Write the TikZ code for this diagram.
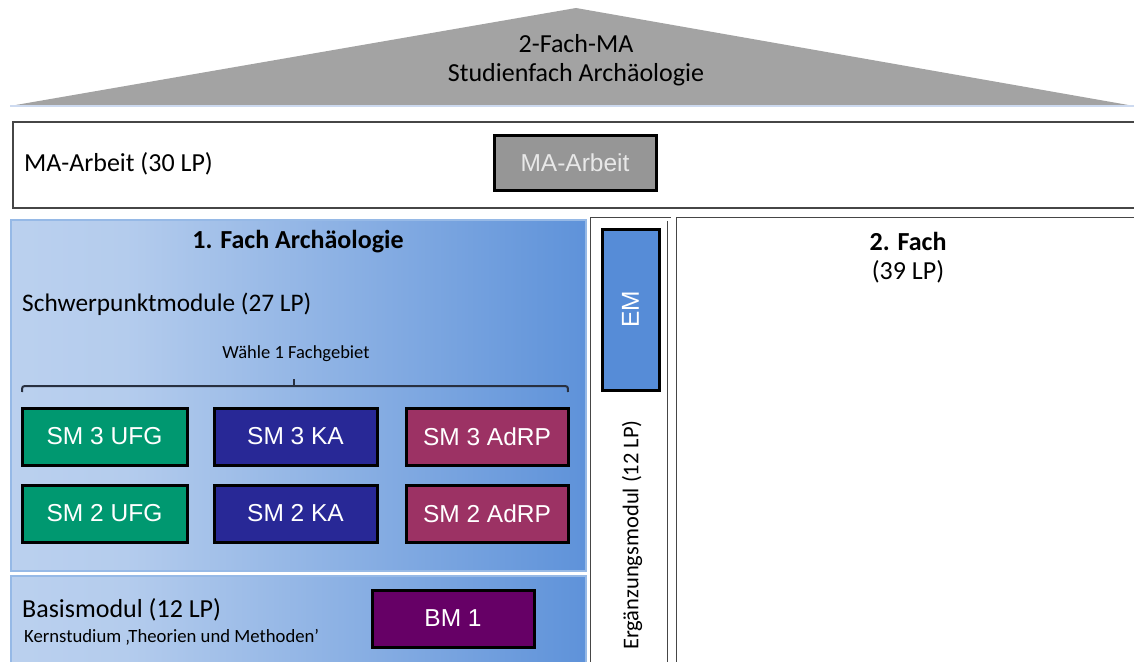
\documentclass[tikz,border=0pt]{standalone}
\usepackage{fontspec}
\setmainfont{Carlito}
\newfontfamily\arialf{Liberation Sans}
\usetikzlibrary{shadows}
\definecolor{trigray}{RGB}{163,163,163}
\definecolor{trilight}{RGB}{205,218,240}
\definecolor{magray}{RGB}{150,150,150}
\definecolor{matext}{RGB}{232,232,232}
\definecolor{smgreen}{RGB}{0,152,112}
\definecolor{smblue}{RGB}{40,40,150}
\definecolor{smmag}{RGB}{156,50,100}
\definecolor{bmpurple}{RGB}{102,0,102}
\definecolor{emblue}{RGB}{86,140,215}
\definecolor{lbA}{RGB}{204,220,242}
\definecolor{lbB}{RGB}{180,204,237}
\definecolor{dbA}{RGB}{88,142,216}
\definecolor{fachborder}{RGB}{150,185,230}
\definecolor{frameline}{RGB}{70,70,70}
\definecolor{bracecol}{RGB}{40,48,64}
\pgfdeclarehorizontalshading{fachshade}{100bp}{color(0bp)=(lbA); color(35bp)=(lbB); color(78bp)=(dbA); color(100bp)=(dbA)}
\tikzset{
  btn/.style={draw=black, line width=3pt, minimum height=57pt, minimum width=163pt,
    font=\arialf\fontsize{24.5}{28}\selectfont, text=white, inner sep=0pt,
    drop shadow={shadow xshift=2pt, shadow yshift=-2pt, opacity=0.35}},
  fachbox/.style={draw=fachborder, line width=1.5pt, shading=fachshade, inner sep=0pt},
  dframe/.style={draw=frameline, line width=0.9pt, double=white, double distance=2.2pt, inner sep=0pt},
  lbl/.style={font=\fontsize{26}{30}\selectfont, text=black, inner sep=0pt},
}
\begin{document}
\begin{tikzpicture}[x=1pt,y=-1pt]
\useasboundingbox (0,0) rectangle (1134,661);
\clip (0,0) rectangle (1134,661);
\fill[white] (0,0) rectangle (1134,661);
% roof
\fill[trigray] (10,106) -- (576,8) -- (1134,106) -- cycle;
\draw[trilight, line width=1.5pt] (10,106) -- (1134,106);
\node[lbl, align=center, font=\fontsize{26}{29}\selectfont] (title) at (576,60) {2-Fach-MA\\Studienfach Archäologie};
% MA row
\node[draw=frameline, line width=1.8pt, minimum width=1140pt, minimum height=86pt, anchor=north west, inner sep=0pt] (marow) at (12,121) {};
\node[lbl, anchor=west] (malbl) at (24,164) {MA-Arbeit (30 LP)};
\node[btn, fill=magray, text=matext, minimum width=162pt, minimum height=55pt] (mabtn) at (575,162.5) {MA-Arbeit};
% 1. Fach
\node[fachbox, minimum width=575pt, minimum height=351pt, anchor=north west] (fach1) at (10,219) {};
\node[lbl, font=\bfseries\fontsize{26}{30}\selectfont] (fach1t) at (298,242) {1. Fach Archäologie};
\node[lbl, anchor=west, font=\fontsize{25.3}{30}\selectfont] (swp) at (22,304) {Schwerpunktmodule (27 LP)};
\node[lbl, font=\fontsize{18.5}{22}\selectfont] (waehle) at (296,354) {Wähle 1 Fachgebiet};
\coordinate (brL) at (22,392);
\coordinate (brR) at (568,392);
\coordinate (brM) at (294,386);
\coordinate (brT) at (294,379);
\draw[bracecol, line width=2pt] (brL) .. controls (22,386) .. (28,386) -- (562,386) .. controls (568,386) .. (brR);
\draw[bracecol, line width=2pt] (brM) -- (brT);
\node[btn, fill=smgreen, minimum width=165pt] (sm3u) at (104.5,436.5) {SM 3 UFG};
\node[btn, fill=smblue] (sm3k) at (295.5,436.5) {SM 3 KA};
\node[btn, fill=smmag, minimum width=162pt] (sm3a) at (487,436.5) {SM 3 AdRP};
\node[btn, fill=smgreen, minimum width=165pt] (sm2u) at (104.5,513.5) {SM 2 UFG};
\node[btn, fill=smblue] (sm2k) at (295.5,513.5) {SM 2 KA};
\node[btn, fill=smmag, minimum width=162pt] (sm2a) at (487,513.5) {SM 2 AdRP};
% Basismodul
\node[fachbox, minimum width=575pt, minimum height=100pt, anchor=north west] (basis) at (10,575) {};
\node[lbl, anchor=west] (basist) at (22,610) {Basismodul (12 LP)};
\node[lbl, anchor=west, font=\fontsize{18.7}{22}\selectfont] (kern) at (24,637) {Kernstudium ‚Theorien und Methoden’};
\node[btn, fill=bmpurple, minimum width=162pt] (bm1) at (453,618.5) {BM 1};
% Ergänzungsmodul
\node[dframe, minimum width=77pt, minimum height=460pt, anchor=north west] (erg) at (592,219) {};
\node[btn, fill=emblue, minimum width=57pt, minimum height=161pt] (em) at (630.5,309.5) {};
\node[font=\arialf\fontsize{24.5}{28}\selectfont, text=white, rotate=90, inner sep=0pt] (emt) at (em.center) {EM};
\node[lbl, rotate=90, font=\fontsize{22.5}{26}\selectfont] (ergt) at (632,535) {Ergänzungsmodul (12 LP)};
% 2. Fach
\node[dframe, minimum width=470pt, minimum height=460pt, anchor=north west] (fach2) at (678,219) {};
\node[lbl, align=center, font=\fontsize{26}{29}\selectfont] (fach2t) at (908,257.5) {\textbf{2. Fach}\\(39 LP)};
\end{tikzpicture}
\end{document}
